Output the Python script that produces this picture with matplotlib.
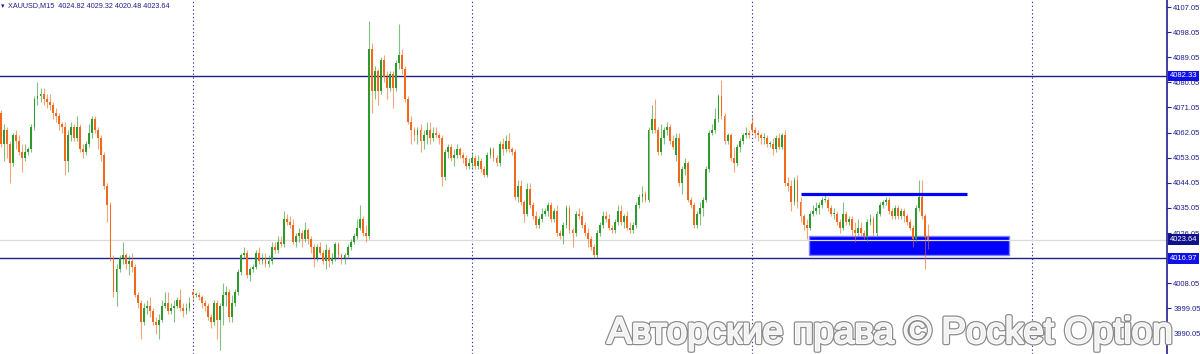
import matplotlib
matplotlib.use('Agg')
import matplotlib.pyplot as plt
import matplotlib.transforms as mtransforms
import matplotlib.patheffects as pe
from matplotlib.patches import Rectangle

# %% XAUUSD M15 candles
opens = [4069, 4058, 4063, 4058, 4051, 4061, 4059, 4055, 4053, 4055,
         4056, 4064, 4074, 4075, 4076, 4074, 4073, 4072, 4069, 4068,
         4065, 4064, 4052, 4061, 4064, 4060, 4064, 4056, 4055, 4058,
         4062, 4067, 4063, 4060, 4054, 4043, 4036, 4017, 4005, 4013,
         4017, 4018, 4015, 4016, 4014, 4004, 4001, 3994, 3999, 4000,
         3998, 3994, 3993, 3995, 4000, 4001, 3998, 3999, 4000, 4002,
         3999, 3998, 3999, 4005, 4004, 4004, 4003, 4001, 4000, 3996,
         3994, 4001, 3995, 4000, 4004, 4005, 3996, 4001, 4005, 4012,
         4018, 4019, 4011, 4013, 4014, 4019, 4016, 4017, 4015, 4016,
         4021, 4020, 4023, 4022, 4031, 4030, 4029, 4023, 4025, 4026,
         4024, 4027, 4024, 4021, 4017, 4021, 4019, 4016, 4020, 4016,
         4017, 4022, 4018, 4017, 4018, 4021, 4023, 4025, 4028, 4031,
         4026, 4025, 4092, 4077, 4084, 4077, 4088, 4082, 4078, 4083,
         4078, 4087, 4090, 4085, 4074, 4066, 4063, 4061, 4063, 4059,
         4061, 4063, 4060, 4062, 4061, 4060, 4046, 4055, 4057, 4053,
         4054, 4056, 4054, 4053, 4050, 4051, 4053, 4050, 4052, 4049,
         4047, 4054, 4056, 4053, 4051, 4058, 4056, 4059, 4056, 4055,
         4039, 4043, 4037, 4033, 4042, 4036, 4032, 4029, 4031, 4033,
         4034, 4036, 4031, 4034, 4026, 4025, 4029, 4035, 4027, 4026,
         4033, 4032, 4029, 4026, 4024, 4021, 4018, 4026, 4029, 4032,
         4031, 4028, 4027, 4030, 4034, 4030, 4032, 4028, 4027, 4029,
         4036, 4039, 4040, 4038, 4063, 4067, 4063, 4055, 4060, 4063,
         4064, 4059, 4054, 4060, 4044, 4049, 4051, 4038, 4036, 4029,
         4033, 4035, 4038, 4049, 4062, 4063, 4067, 4075, 4068, 4059,
         4061, 4053, 4051, 4057, 4059, 4061, 4062, 4065, 4063, 4062,
         4061, 4060, 4060, 4058, 4058, 4056, 4060, 4057, 4061, 4044,
         4043, 4037, 4045, 4037, 4032, 4029, 4028, 4033, 4034, 4035,
         4036, 4038, 4038, 4035, 4033, 4033, 4030, 4028, 4033, 4030,
         4031, 4027, 4026, 4028, 4026, 4025, 4030, 4031, 4026, 4033,
         4036, 4037, 4038, 4034, 4032, 4035, 4032, 4034, 4032, 4030,
         4028, 4024, 4035, 4039, 4032, 4024.82]
highs = [4070, 4065, 4064, 4059, 4062, 4063, 4061, 4058, 4058, 4057,
         4065, 4075, 4080, 4078, 4078, 4076, 4076, 4073, 4071, 4069,
         4066, 4066, 4063, 4066, 4065, 4068, 4065, 4058, 4059, 4065,
         4068, 4068, 4064, 4061, 4055, 4044, 4037, 4018, 4015, 4018,
         4023, 4019, 4018, 4019, 4015, 4005, 4002, 4001, 4002, 4003,
         3999, 3996, 3997, 4002, 4005, 4005, 4001, 4002, 4003, 4006,
         4001, 4001, 4003, 4006, 4005, 4005, 4004, 4002, 4001, 3997,
         4002, 4002, 4001, 4008, 4007, 4006, 4004, 4006, 4013, 4019,
         4021, 4020, 4014, 4015, 4020, 4021, 4019, 4019, 4018, 4023,
         4023, 4025, 4025, 4034, 4033, 4032, 4031, 4026, 4028, 4027,
         4030, 4028, 4025, 4022, 4022, 4023, 4020, 4022, 4021, 4019,
         4023, 4023, 4019, 4019, 4022, 4024, 4026, 4031, 4036, 4032,
         4029, 4102, 4094, 4086, 4085, 4089, 4090, 4084, 4084, 4084,
         4088, 4101, 4092, 4086, 4075, 4068, 4064, 4064, 4065, 4063,
         4066, 4066, 4064, 4064, 4062, 4061, 4056, 4058, 4058, 4056,
         4058, 4057, 4055, 4054, 4053, 4055, 4054, 4054, 4053, 4050,
         4055, 4057, 4057, 4054, 4059, 4060, 4061, 4062, 4057, 4056,
         4045, 4045, 4038, 4044, 4044, 4037, 4034, 4032, 4035, 4035,
         4037, 4037, 4035, 4036, 4027, 4030, 4036, 4036, 4028, 4034,
         4035, 4034, 4030, 4028, 4025, 4022, 4027, 4030, 4034, 4034,
         4033, 4029, 4031, 4036, 4036, 4033, 4034, 4030, 4030, 4037,
         4040, 4043, 4041, 4064, 4072, 4074, 4064, 4065, 4064, 4066,
         4065, 4061, 4062, 4062, 4050, 4053, 4052, 4039, 4037, 4034,
         4037, 4039, 4050, 4063, 4065, 4071, 4076, 4081, 4069, 4062,
         4062, 4057, 4058, 4060, 4062, 4064, 4063, 4068, 4064, 4063,
         4062, 4062, 4061, 4059, 4060, 4061, 4062, 4062, 4063, 4046,
         4045, 4046, 4047, 4039, 4033, 4031, 4034, 4036, 4037, 4037,
         4039, 4040, 4039, 4036, 4035, 4034, 4031, 4037, 4034, 4032,
         4032, 4030, 4031, 4030, 4027, 4031, 4033, 4032, 4034, 4037,
         4038, 4039, 4039, 4035, 4036, 4036, 4035, 4035, 4033, 4031,
         4029, 4036, 4045, 4045, 4033, 4029.32]
lows = [4057, 4052, 4053, 4044, 4050, 4056, 4054, 4048, 4052, 4054,
        4055, 4063, 4072, 4073, 4072, 4071, 4070, 4067, 4066, 4063,
        4062, 4047, 4048, 4059, 4059, 4059, 4055, 4053, 4054, 4057,
        4060, 4062, 4056, 4052, 4042, 4030, 4016, 4003, 4000, 4012,
        4015, 4013, 4011, 4012, 4003, 3999, 3988, 3993, 3997, 3996,
        3993, 3990, 3988, 3994, 3999, 3997, 3997, 3994, 3999, 3998,
        3996, 3997, 3998, 4002, 4003, 4002, 3999, 3998, 3995, 3992,
        3993, 3988, 3984, 3993, 4000, 3994, 3994, 4000, 4004, 4011,
        4017, 4010, 4009, 4012, 4013, 4015, 4015, 4014, 4014, 4015,
        4019, 4019, 4021, 4021, 4029, 4028, 4022, 4021, 4023, 4021,
        4023, 4022, 4019, 4014, 4016, 4018, 4015, 4013, 4014, 4015,
        4016, 4017, 4015, 4015, 4017, 4020, 4022, 4024, 4027, 4025,
        4023, 4024, 4069, 4074, 4072, 4076, 4080, 4074, 4077, 4071,
        4077, 4085, 4083, 4073, 4065, 4058, 4059, 4058, 4055, 4056,
        4058, 4058, 4059, 4060, 4058, 4043, 4045, 4053, 4052, 4050,
        4053, 4053, 4051, 4049, 4049, 4049, 4049, 4049, 4048, 4046,
        4046, 4053, 4052, 4050, 4050, 4054, 4055, 4055, 4054, 4038,
        4037, 4036, 4030, 4032, 4035, 4031, 4028, 4028, 4030, 4032,
        4032, 4030, 4030, 4025, 4024, 4022, 4028, 4026, 4021, 4025,
        4031, 4028, 4025, 4021, 4020, 4017, 4017, 4025, 4028, 4030,
        4027, 4026, 4026, 4029, 4029, 4028, 4027, 4026, 4026, 4028,
        4035, 4037, 4037, 4037, 4062, 4062, 4054, 4054, 4058, 4061,
        4058, 4056, 4052, 4043, 4040, 4047, 4037, 4035, 4028, 4028,
        4029, 4032, 4037, 4048, 4061, 4062, 4066, 4067, 4058, 4058,
        4052, 4048, 4050, 4055, 4058, 4060, 4060, 4062, 4060, 4059,
        4058, 4058, 4057, 4057, 4054, 4055, 4056, 4056, 4043, 4041,
        4034, 4036, 4035, 4030, 4027, 4024, 4027, 4032, 4033, 4033,
        4035, 4037, 4034, 4032, 4031, 4029, 4026, 4027, 4029, 4029,
        4025, 4023, 4025, 4025, 4024, 4023, 4029, 4025, 4025, 4032,
        4035, 4036, 4033, 4031, 4031, 4031, 4031, 4030, 4029, 4027,
        4021, 4023, 4034, 4031, 4013, 4020.48]
closes = [4058, 4063, 4058, 4051, 4061, 4059, 4055, 4053, 4055, 4056,
          4064, 4074, 4075, 4076, 4074, 4073, 4072, 4069, 4068, 4065,
          4064, 4052, 4061, 4064, 4060, 4064, 4056, 4055, 4058, 4062,
          4067, 4063, 4060, 4054, 4043, 4036, 4017, 4005, 4013, 4017,
          4018, 4015, 4016, 4014, 4004, 4001, 3994, 3999, 4000, 3998,
          3994, 3993, 3995, 4000, 4001, 3998, 3999, 4000, 4002, 3999,
          3998, 3999, 4001, 4004, 4004, 4003, 4001, 4000, 3996, 3994,
          4001, 3995, 4000, 4004, 4005, 3996, 4001, 4005, 4012, 4018,
          4019, 4011, 4013, 4014, 4019, 4016, 4017, 4015, 4016, 4021,
          4020, 4023, 4022, 4031, 4030, 4029, 4023, 4025, 4026, 4024,
          4027, 4024, 4021, 4017, 4021, 4019, 4016, 4020, 4016, 4017,
          4022, 4018, 4017, 4018, 4021, 4023, 4025, 4028, 4031, 4026,
          4025, 4092, 4077, 4084, 4077, 4088, 4082, 4078, 4083, 4078,
          4087, 4090, 4085, 4074, 4066, 4063, 4061, 4063, 4059, 4061,
          4063, 4060, 4062, 4061, 4060, 4046, 4055, 4057, 4053, 4054,
          4056, 4054, 4053, 4050, 4051, 4053, 4050, 4052, 4049, 4047,
          4054, 4056, 4053, 4051, 4058, 4056, 4059, 4056, 4055, 4039,
          4043, 4037, 4033, 4042, 4036, 4032, 4029, 4031, 4033, 4034,
          4036, 4031, 4034, 4026, 4025, 4029, 4035, 4027, 4026, 4033,
          4032, 4029, 4026, 4024, 4021, 4018, 4026, 4029, 4032, 4031,
          4028, 4027, 4030, 4034, 4030, 4032, 4028, 4027, 4029, 4036,
          4039, 4040, 4038, 4063, 4067, 4063, 4055, 4060, 4063, 4064,
          4059, 4057, 4060, 4044, 4049, 4051, 4038, 4036, 4029, 4033,
          4035, 4038, 4049, 4062, 4063, 4067, 4075, 4068, 4059, 4061,
          4053, 4051, 4057, 4059, 4061, 4062, 4061, 4063, 4062, 4061,
          4060, 4060.5, 4058, 4058, 4056, 4060, 4057, 4061, 4044, 4043,
          4037, 4045, 4037, 4032, 4029, 4028, 4033, 4034, 4035, 4036,
          4038, 4038, 4035, 4033, 4033, 4030, 4028, 4033, 4030, 4031,
          4027, 4026, 4028, 4026, 4025, 4030, 4031, 4026, 4033, 4036,
          4037, 4038, 4034, 4032, 4035, 4032, 4034, 4032, 4030, 4028,
          4024, 4035, 4039, 4032, 4025, 4023.64]

# levels and objects drawn on the chart
level_lines = [4082.33, 4016.97]
bid_price = 4023.64
day_starts = [63, 155, 247, 339]
trend_bars = [263.0, 317.7]
trend_price = 4040.0
zone_bars = [265.8, 331.6]
zone_prices = [4018.2, 4025.0]
price_ticks = [3990.05 + 9 * k for k in range(14)]
hidden_tick = 4017.05   # covered by the 4016.97 tag in the terminal
header = 'XAUUSD,M15  4024.82 4029.32 4020.48 4023.64'
watermark = 'Авторские права © Pocket Option'

navy = '#1f1f8c'
up_col = '#2e9a2e'
dn_col = '#f0691c'

# %% figure
fig = plt.figure(figsize=(12, 3.54), dpi=100)
ax = fig.add_axes([0, 0, 1167 / 1200, 1])
ax.set_facecolor('white')

# candles
for i, (o, h, l, c) in enumerate(zip(opens, highs, lows, closes)):
    col = up_col if c >= o else dn_col
    ax.vlines(i, l, h, color=col, lw=0.8, alpha=0.6, zorder=2)
    ax.bar(i, max(abs(c - o), 0.35), bottom=min(o, c), width=0.62,
           color=col, linewidth=0, zorder=2.1)

# day separators
for d in day_starts:
    ax.axvline(d, color='#3a3aa0', lw=0.8, ls=(0, (1.2, 2.2)), zorder=1)

# horizontal levels
for lv in level_lines:
    ax.axhline(lv, color=navy, lw=1.0, zorder=1.5)
ax.axhline(bid_price, color='#dcdcdc', lw=0.9, zorder=1.4)

# support zone and resistance line
ax.add_patch(Rectangle((zone_bars[0], zone_prices[0]),
                       zone_bars[1] - zone_bars[0],
                       zone_prices[1] - zone_prices[0],
                       facecolor='#0000ff', edgecolor='#8080ff', lw=1.0,
                       zorder=1.3))
ax.plot(trend_bars, [trend_price, trend_price], color='#0000ff', lw=2.3,
        solid_capstyle='butt', zorder=3)

# cosmetics
ax.set_xlim(-0.33, 383.55)
ax.set_ylim(3982.69, 4109.56)
for s in ['left', 'top', 'bottom']:
    ax.spines[s].set_visible(False)
ax.spines['right'].set_color(navy)
ax.spines['right'].set_linewidth(1.2)
ax.set_xticks([])
ax.yaxis.tick_right()
ax.set_yticks(price_ticks)
ax.set_yticklabels(['' if abs(t - hidden_tick) < 0.01 else '%.2f' % t
                    for t in price_ticks])
ax.tick_params(axis='y', direction='out', length=3, width=0.8, pad=1.5,
               colors=navy, labelsize=5.5)
for lab in ax.get_yticklabels():
    lab.set_family('Liberation Sans')

# price tags on the scale
tr = mtransforms.blended_transform_factory(ax.transAxes, ax.transData)
for p, bg in [(level_lines[0], '#1010e8'), (level_lines[1], '#1010e8'),
              (bid_price, '#10108a')]:
    ax.text(1.0025, p, '%.2f' % p, transform=tr, ha='left', va='center',
            fontsize=5.5, family='Liberation Sans', color='white',
            clip_on=False, zorder=5,
            bbox=dict(boxstyle='square,pad=0.25', fc=bg, ec='none'))

# header
fig.text(1 / 1200, 1 - 6 / 354, '▾', fontsize=5, color=navy, va='center',
         family='DejaVu Sans')
fig.text(8 / 1200, 1 - 6 / 354, header, fontsize=5.2, color=navy,
         va='center', family='Liberation Sans')

# watermark
fig.text(607 / 1200, 11 / 354, watermark, fontsize=26.5,
         family='Liberation Sans', color='#f2f2f2', va='baseline',
         zorder=10,
         path_effects=[pe.Stroke(linewidth=3.2, foreground='#8c8c8c'),
                       pe.Stroke(linewidth=1.4, foreground='white'),
                       pe.Normal()])

fig.savefig('out.png', dpi=100, facecolor='white')
